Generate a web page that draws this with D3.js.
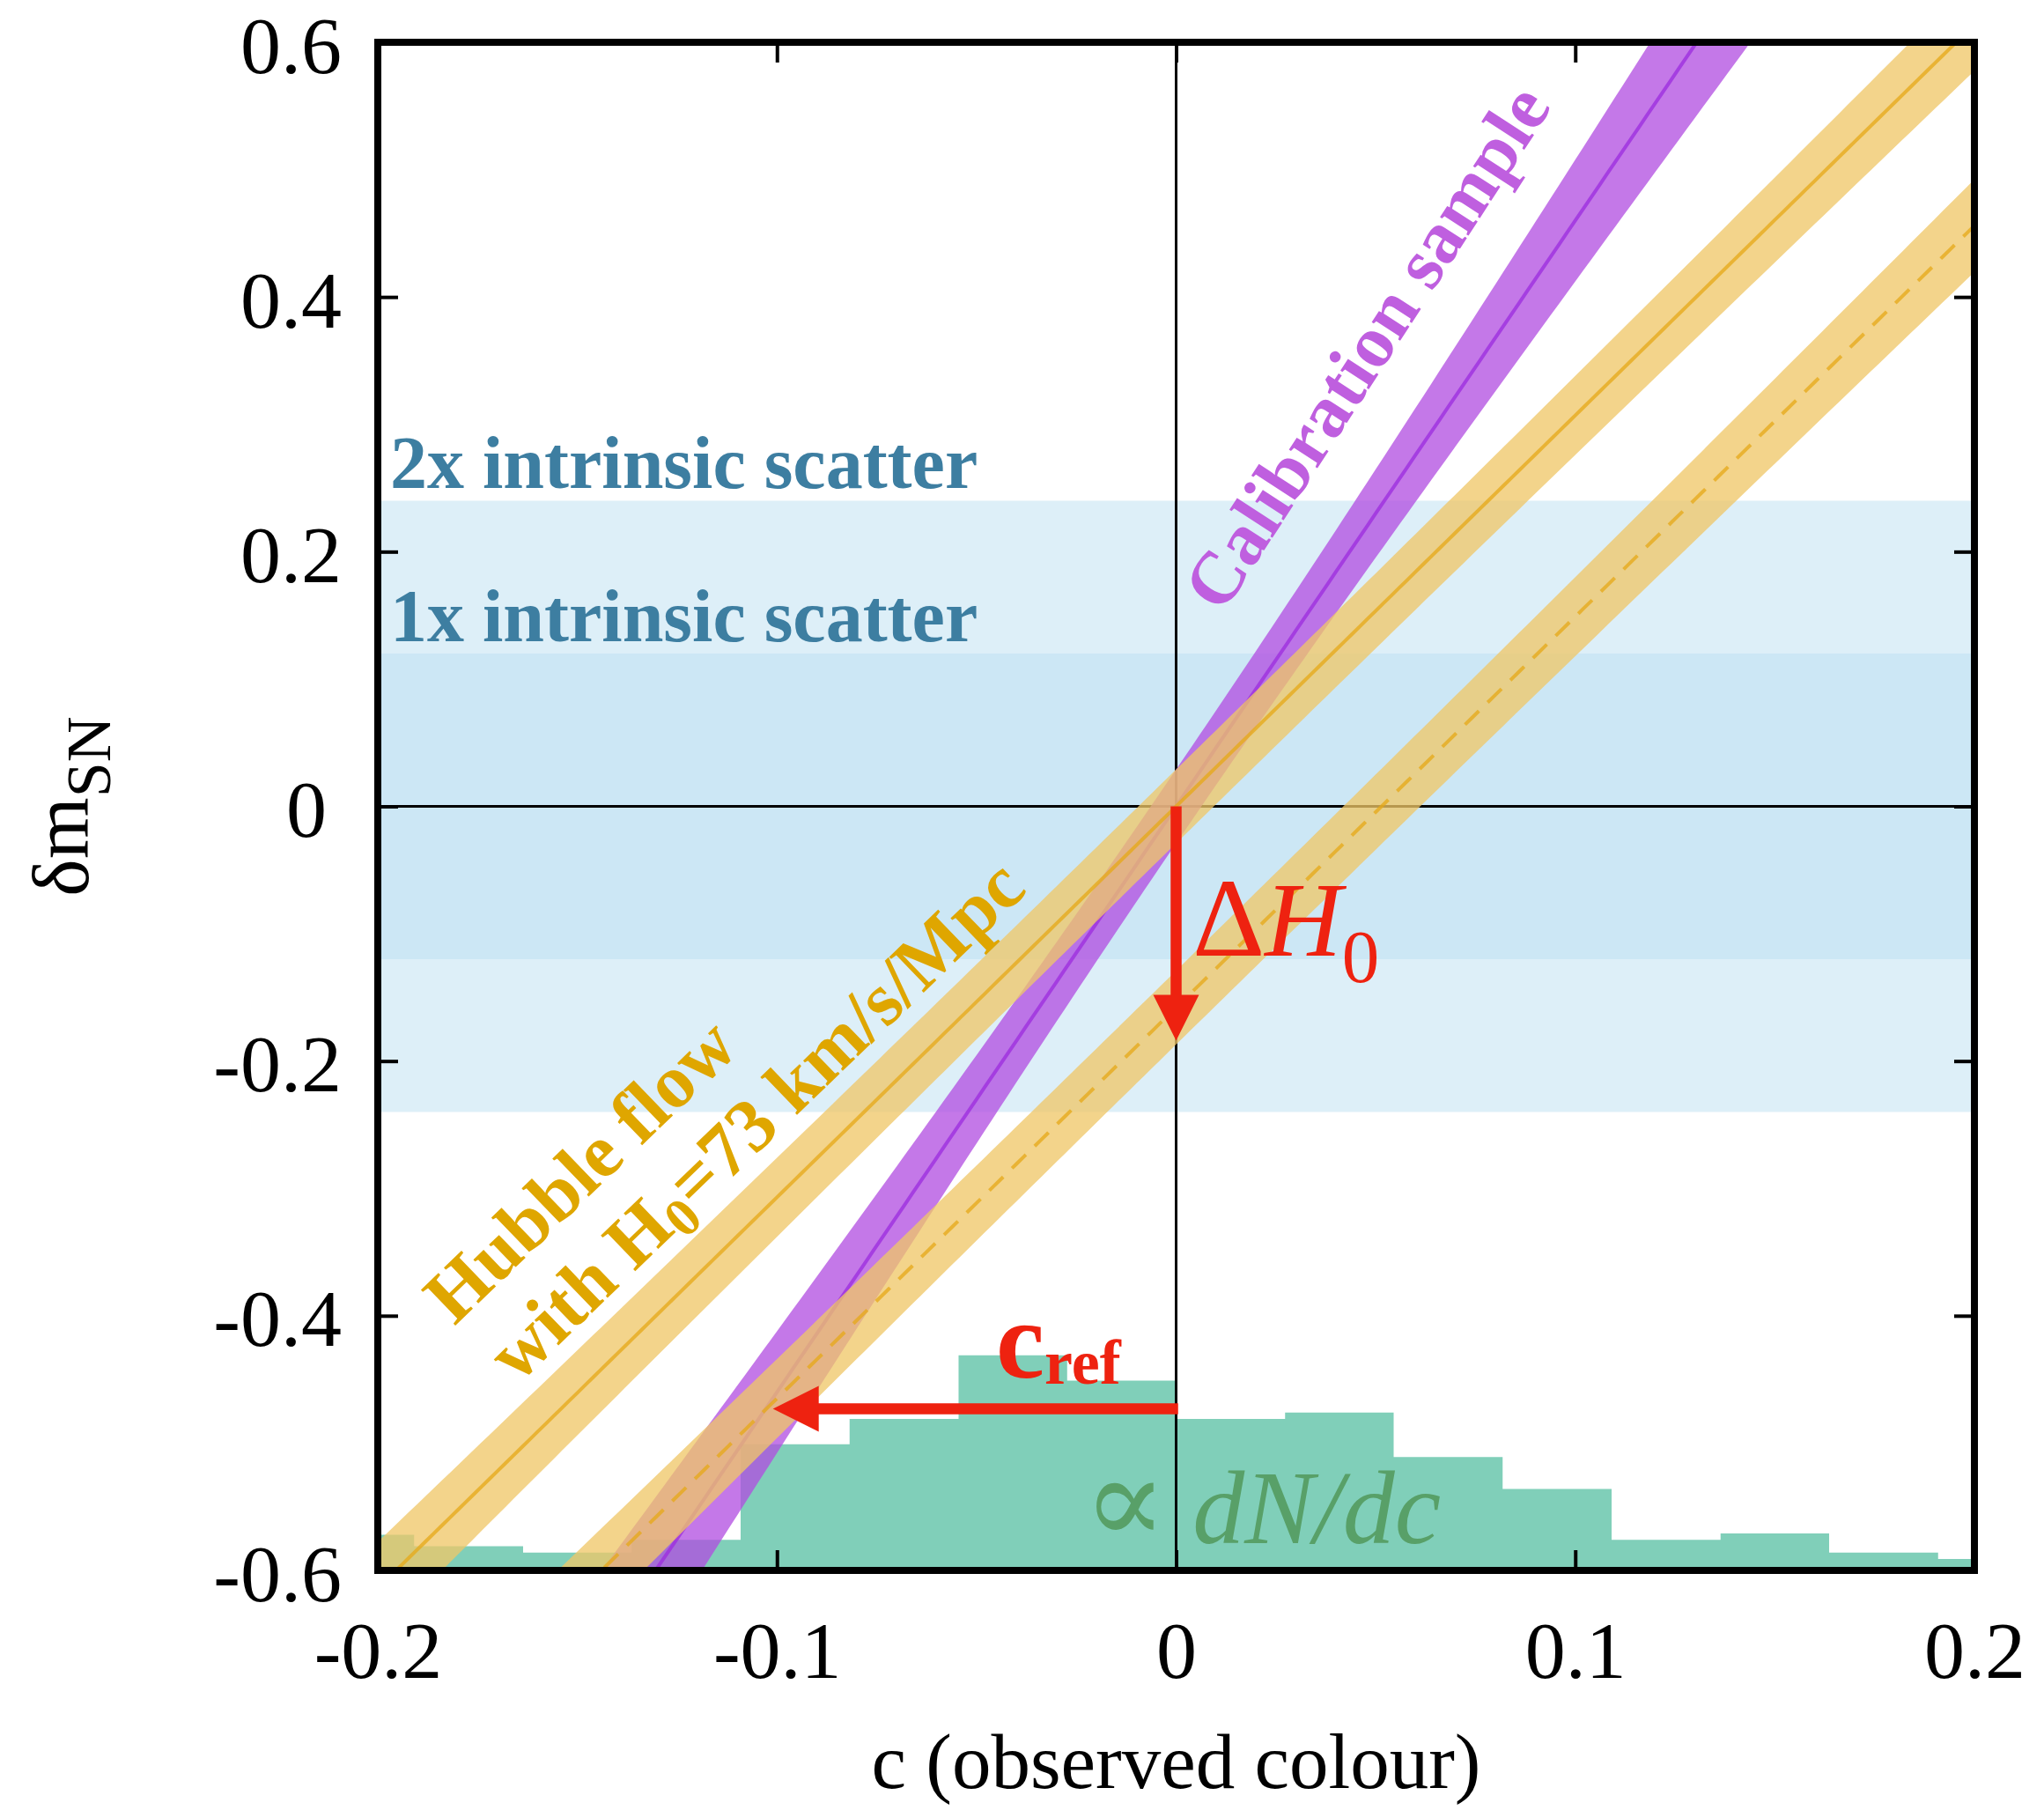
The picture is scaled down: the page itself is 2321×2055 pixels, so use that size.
<!DOCTYPE html>
<html>
<head>
<meta charset="utf-8">
<script src="https://cdn.jsdelivr.net/npm/d3@7"></script>
<style>
  body { margin: 0; background: #fff; }
  svg { display: block; }
</style>
</head>
<body>
<svg id="chart" width="2321" height="2055"></svg>
<script>
// ---- axis ticks ----
const xTicks = [-0.2, -0.1, 0, 0.1, 0.2];
const xTickLabels = ["-0.2", "-0.1", "0", "0.1", "0.2"];
const yTicks = [-0.6, -0.4, -0.2, 0, 0.2, 0.4, 0.6];
const yTickLabels = ["-0.6", "-0.4", "-0.2", "0", "0.2", "0.4", "0.6"];

// ---- intrinsic scatter bands (half widths in mag) ----
const scatterHalfWidths = [0.24, 0.12];
const scatterLabels = ["2x intrinsic scatter", "1x intrinsic scatter"];

// ---- colour distribution (histogram, arbitrary scaling) ----
const histEdges = [-0.2182, -0.1909, -0.1636, -0.1364, -0.1091, -0.0818, -0.0545, -0.0273,
                   0, 0.0273, 0.0545, 0.0818, 0.1091, 0.1364, 0.1636, 0.1909, 0.2182];
const histTops  = [-0.572, -0.581, -0.586, -0.576, -0.501, -0.481, -0.431, -0.451,
                   -0.481, -0.476, -0.511, -0.536, -0.576, -0.571, -0.586, -0.591];

// ---- colour-correction relations: delta m = slope * c + intercept ----
const calibSlope = 4.6,  calibIntercept = 0.0,  calibSigma0 = 0.029, calibSigmaSlope = 0.38;
const flowSlope  = 3.07, flowIntercept  = 0.0,  flowSigma0  = 0.029, flowSigmaSlope  = 0.11;
const deltaH0Shift = -0.158;

// ---- annotation arrows ----
const deltaH0Arrow = { c: 0, from: 0, to: -0.184 };
const cRefArrow = { m: -0.473, from: 0.0005, to: -0.101 };

const svg = d3.select("#chart");
const plot = { left: 429, right: 2242, top: 48, bottom: 1783 };
const x = d3.scaleLinear().domain([-0.2, 0.2]).range([plot.left, plot.right]);
const y = d3.scaleLinear().domain([-0.6, 0.6]).range([plot.bottom, plot.top]);
const serif = "'Liberation Serif', 'Times New Roman', 'DejaVu Serif', serif";

svg.append("defs").append("clipPath").attr("id", "plotClip")
  .append("rect")
  .attr("x", plot.left).attr("y", plot.top)
  .attr("width", plot.right - plot.left).attr("height", plot.bottom - plot.top);

const g = svg.append("g").attr("clip-path", "url(#plotClip)");

// intrinsic scatter bands (overlapping translucent fills)
g.selectAll("rect.scatter").data(scatterHalfWidths).join("rect")
  .attr("class", "scatter")
  .attr("x", plot.left).attr("width", plot.right - plot.left)
  .attr("y", d => y(d)).attr("height", d => y(-d) - y(d))
  .attr("fill", "#bbdff2").attr("fill-opacity", 0.5);

// colour histogram as a step area
const histPts = histTops.map((t, i) => ({ c: histEdges[i], top: t }));
histPts.push({ c: histEdges[histEdges.length - 1], top: histTops[histTops.length - 1] });
g.append("path")
  .datum(histPts)
  .attr("fill", "#80cfb9")
  .attr("d", d3.area().curve(d3.curveStepAfter)
    .x(d => x(d.c)).y0(y(-0.6)).y1(d => y(d.top)));

// zero lines
g.append("line").attr("x1", x(0)).attr("x2", x(0)).attr("y1", plot.top).attr("y2", plot.bottom)
  .attr("stroke", "#000").attr("stroke-width", 3);
g.append("line").attr("x1", plot.left).attr("x2", plot.right).attr("y1", y(0)).attr("y2", y(0))
  .attr("stroke", "#000").attr("stroke-width", 3);

// relation bands: centre line with slope-uncertainty envelope
const cGrid = d3.range(-0.2, 0.2001, 0.002);
function bandArea(slope, icpt, s0, sSlope, shift) {
  return d3.area()
    .x(c => x(c))
    .y0(c => y(slope * c + icpt + shift - Math.hypot(s0, sSlope * c)))
    .y1(c => y(slope * c + icpt + shift + Math.hypot(s0, sSlope * c)))(cGrid);
}
function centreLine(slope, icpt, shift) {
  return d3.line().x(c => x(c)).y(c => y(slope * c + icpt + shift))(cGrid);
}

// calibration sample
g.append("path").attr("d", bandArea(calibSlope, calibIntercept, calibSigma0, calibSigmaSlope, 0))
  .attr("fill", "#b14ce1").attr("fill-opacity", 0.756);
g.append("path").attr("d", centreLine(calibSlope, calibIntercept, 0))
  .attr("fill", "none").attr("stroke", "#9d2fde").attr("stroke-opacity", 0.8).attr("stroke-width", 4);

// Hubble flow (H0 = 73) and the same relation shifted by delta H0
g.append("path").attr("d", bandArea(flowSlope, flowIntercept, flowSigma0, flowSigmaSlope, 0))
  .attr("fill", "#efc767").attr("fill-opacity", 0.763);
g.append("path").attr("d", centreLine(flowSlope, flowIntercept, 0))
  .attr("fill", "none").attr("stroke", "#e6a817").attr("stroke-opacity", 0.75).attr("stroke-width", 4);
g.append("path").attr("d", bandArea(flowSlope, flowIntercept, flowSigma0, flowSigmaSlope, deltaH0Shift))
  .attr("fill", "#efc767").attr("fill-opacity", 0.763);
g.append("path").attr("d", centreLine(flowSlope, flowIntercept, deltaH0Shift))
  .attr("fill", "none").attr("stroke", "#e6a817").attr("stroke-opacity", 0.75).attr("stroke-width", 4)
  .attr("stroke-dasharray", "22,14");

// arrows
const red = "#ee2210";
const headLen = 52, headHalf = 26;
function arrow(x1, y1, x2, y2) {
  const L = Math.hypot(x2 - x1, y2 - y1), ux = (x2 - x1) / L, uy = (y2 - y1) / L;
  const bx = x2 - ux * headLen, by = y2 - uy * headLen;
  svg.append("line").attr("x1", x1).attr("y1", y1).attr("x2", bx + ux * 2).attr("y2", by + uy * 2)
    .attr("stroke", red).attr("stroke-width", 12.5);
  svg.append("path")
    .attr("d", `M${x2},${y2}L${bx - uy * headHalf},${by + ux * headHalf}L${bx + uy * headHalf},${by - ux * headHalf}Z`)
    .attr("fill", red);
}
arrow(x(deltaH0Arrow.c), y(deltaH0Arrow.from), x(deltaH0Arrow.c), y(deltaH0Arrow.to));
arrow(x(cRefArrow.from), y(cRefArrow.m), x(cRefArrow.to), y(cRefArrow.m));

// frame
svg.append("rect")
  .attr("x", plot.left).attr("y", plot.top)
  .attr("width", plot.right - plot.left).attr("height", plot.bottom - plot.top)
  .attr("fill", "none").attr("stroke", "#000").attr("stroke-width", 8);

// axes with inward ticks on all four sides
function styleAxis(sel) {
  sel.select(".domain").remove();
  sel.selectAll("line").attr("stroke", "#000").attr("stroke-width", 4);
  sel.attr("font-family", serif);
}
const tickFont = 92;
const axB = svg.append("g").attr("transform", `translate(0,${plot.bottom})`)
  .call(d3.axisBottom(x).tickValues(xTicks).tickSizeInner(-23).tickSizeOuter(0).tickPadding(0)
    .tickFormat((d, i) => xTickLabels[i]));
styleAxis(axB);
axB.selectAll("text").attr("y", 122).attr("dy", null).attr("font-size", tickFont).attr("fill", "#000");

const axT = svg.append("g").attr("transform", `translate(0,${plot.top})`)
  .call(d3.axisTop(x).tickValues(xTicks).tickSizeInner(-23).tickSizeOuter(0).tickFormat(""));
styleAxis(axT);

const axL = svg.append("g").attr("transform", `translate(${plot.left},0)`)
  .call(d3.axisLeft(y).tickValues(yTicks).tickSizeInner(-23).tickSizeOuter(0).tickPadding(0)
    .tickFormat((d, i) => yTickLabels[i]));
styleAxis(axL);
axL.selectAll("text").attr("x", d => d === 0 ? -58 : -41).attr("dy", 34)
  .attr("font-size", tickFont).attr("fill", "#000");

const axR = svg.append("g").attr("transform", `translate(${plot.right},0)`)
  .call(d3.axisRight(y).tickValues(yTicks).tickSizeInner(-23).tickSizeOuter(0).tickFormat(""));
styleAxis(axR);

// axis titles
svg.append("text").attr("x", x(0)).attr("y", 2030).attr("text-anchor", "middle")
  .attr("font-family", serif).attr("font-size", 89).text("c (observed colour)");
const yTitle = svg.append("text").attr("transform", `translate(100,${y(0)}) rotate(-90)`)
  .attr("text-anchor", "middle").attr("font-family", serif);
yTitle.append("tspan").attr("font-size", 90).text("δm");
yTitle.append("tspan").attr("font-size", 72).attr("dy", 25).text("SN");

// scatter labels
svg.selectAll("text.scatterLabel").data(scatterLabels).join("text")
  .attr("class", "scatterLabel")
  .attr("x", 443).attr("y", (d, i) => [554, 728][i])
  .attr("font-family", serif).attr("font-weight", "bold").attr("font-size", 84)
  .attr("fill", "#3d7ea1").text(d => d);

// relation labels
svg.append("text").attr("transform", "translate(1388,698) rotate(-57)")
  .attr("font-family", serif).attr("font-weight", "bold").attr("font-size", 84)
  .attr("fill", "#bf5fdf").text("Calibration sample");

const gold = "#dfa600";
svg.append("text").attr("transform", "translate(516,1506) rotate(-44)")
  .attr("font-family", serif).attr("font-weight", "bold").attr("font-size", 86)
  .attr("fill", gold).text("Hubble flow");
const hf2 = svg.append("text").attr("transform", "translate(588,1572) rotate(-44)")
  .attr("font-family", serif).attr("font-weight", "bold").attr("font-size", 86).attr("fill", gold);
hf2.append("tspan").text("with H");
hf2.append("tspan").attr("font-size", 62).attr("dy", 14).text("0");
hf2.append("tspan").attr("dy", -14).text("=73 km/s/Mpc");

// delta H0 label
const dh = svg.append("text").attr("x", 1354).attr("y", 1085)
  .attr("font-family", serif).attr("font-size", 121).attr("fill", red);
dh.append("tspan").attr("font-size", 128).text("Δ");
dh.append("tspan").attr("font-style", "italic").text("H");
dh.append("tspan").attr("font-size", 85).attr("dy", 30).text("0");

// c_ref label
const cr = svg.append("text").attr("x", 1131).attr("y", 1564)
  .attr("font-family", serif).attr("font-weight", "bold").attr("fill", red);
cr.append("tspan").attr("font-size", 124).text("c");
cr.append("tspan").attr("font-size", 72).attr("dy", 7).text("ref");

// distribution label
const dist = svg.append("text").attr("x", 1230).attr("y", 1752)
  .attr("font-family", serif).attr("font-size", 118).attr("fill", "#58a068");
dist.append("tspan").attr("font-size", 140).text("∝");
dist.append("tspan").text(" ");
dist.append("tspan").attr("font-style", "italic").text("dN/dc");
</script>
</body>
</html>
